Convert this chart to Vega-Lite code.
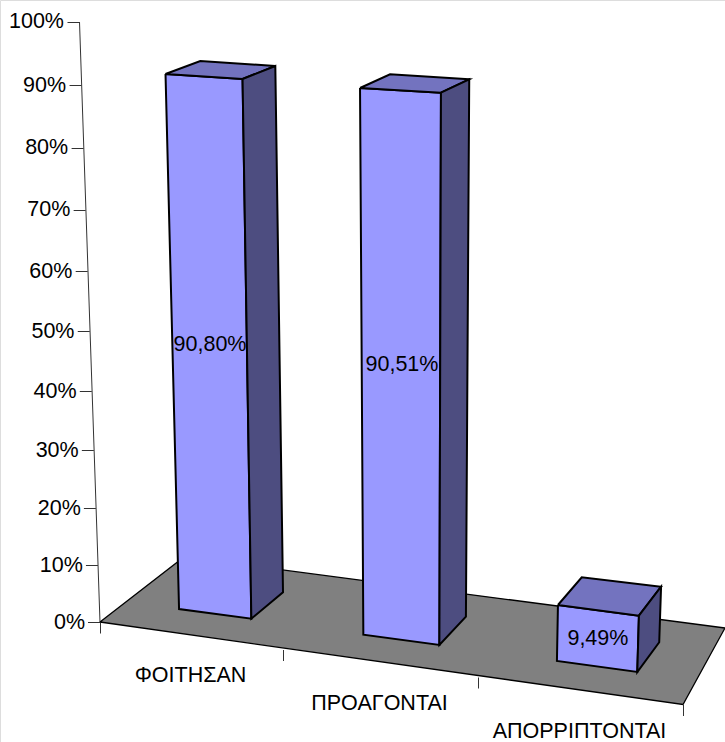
{
"$schema":"https://vega.github.io/schema/vega-lite/v6.json",
"width":725,"height":742,"autosize":{"type":"none"},"padding":0,"background":"white",
"datasets":{
"bars":[
{"category":"ΦΟΙΤΗΣΑΝ","value":90.80,"label":"90,80%","u":0.601,"v":47.7},
{"category":"ΠΡΟΑΓΟΝΤΑΙ","value":90.51,"label":"90,51%","u":1.61,"v":44.4},
{"category":"ΑΠΟΡΡΙΠΤΟΝΤΑΙ","value":9.49,"label":"9,49%","u":2.585,"v":-2.9}],
"floor":[
{"n":1,"u":0,"v":0},{"n":2,"u":0.459,"v":11.4},{"n":3,"u":3.205,"v":-1},{"n":4,"u":3,"v":-13.75},{"n":5,"u":0,"v":0}],
"front":[
{"bar":"ΦΟΙΤΗΣΑΝ","n":1,"u":0.358,"v":91.73},{"bar":"ΦΟΙΤΗΣΑΝ","n":2,"u":0.779,"v":90.94},{"bar":"ΦΟΙΤΗΣΑΝ","n":3,"u":0.827,"v":0.58},{"bar":"ΦΟΙΤΗΣΑΝ","n":4,"u":0.432,"v":2.28},{"bar":"ΦΟΙΤΗΣΑΝ","n":5,"u":0.358,"v":91.73},
{"bar":"ΠΡΟΑΓΟΝΤΑΙ","n":1,"u":1.395,"v":89.52},{"bar":"ΠΡΟΑΓΟΝΤΑΙ","n":2,"u":1.81,"v":88.77},{"bar":"ΠΡΟΑΓΟΝΤΑΙ","n":3,"u":1.802,"v":-3.83},{"bar":"ΠΡΟΑΓΟΝΤΑΙ","n":4,"u":1.412,"v":-2.12},{"bar":"ΠΡΟΑΓΟΝΤΑΙ","n":5,"u":1.395,"v":89.52},
{"bar":"ΑΠΟΡΡΙΠΤΟΝΤΑΙ","n":1,"u":2.39,"v":2.98},{"bar":"ΑΠΟΡΡΙΠΤΟΝΤΑΙ","n":2,"u":2.785,"v":1.11},{"bar":"ΑΠΟΡΡΙΠΤΟΝΤΑΙ","n":3,"u":2.777,"v":-8.33},{"bar":"ΑΠΟΡΡΙΠΤΟΝΤΑΙ","n":4,"u":2.385,"v":-6.5},{"bar":"ΑΠΟΡΡΙΠΤΟΝΤΑΙ","n":5,"u":2.39,"v":2.98}],
"top":[
{"bar":"ΦΟΙΤΗΣΑΝ","n":1,"u":0.358,"v":91.73},{"bar":"ΦΟΙΤΗΣΑΝ","n":2,"u":0.548,"v":93.78},{"bar":"ΦΟΙΤΗΣΑΝ","n":3,"u":0.958,"v":92.99},{"bar":"ΦΟΙΤΗΣΑΝ","n":4,"u":0.779,"v":90.94},{"bar":"ΦΟΙΤΗΣΑΝ","n":5,"u":0.358,"v":91.73},
{"bar":"ΠΡΟΑΓΟΝΤΑΙ","n":1,"u":1.395,"v":89.52},{"bar":"ΠΡΟΑΓΟΝΤΑΙ","n":2,"u":1.549,"v":91.69},{"bar":"ΠΡΟΑΓΟΝΤΑΙ","n":3,"u":1.955,"v":90.9},{"bar":"ΠΡΟΑΓΟΝΤΑΙ","n":4,"u":1.81,"v":88.77},{"bar":"ΠΡΟΑΓΟΝΤΑΙ","n":5,"u":1.395,"v":89.52},
{"bar":"ΑΠΟΡΡΙΠΤΟΝΤΑΙ","n":1,"u":2.39,"v":2.98},{"bar":"ΑΠΟΡΡΙΠΤΟΝΤΑΙ","n":2,"u":2.506,"v":7.84},{"bar":"ΑΠΟΡΡΙΠΤΟΝΤΑΙ","n":3,"u":2.893,"v":6.19},{"bar":"ΑΠΟΡΡΙΠΤΟΝΤΑΙ","n":4,"u":2.785,"v":1.11},{"bar":"ΑΠΟΡΡΙΠΤΟΝΤΑΙ","n":5,"u":2.39,"v":2.98}],
"side":[
{"bar":"ΦΟΙΤΗΣΑΝ","n":1,"u":0.779,"v":90.94},{"bar":"ΦΟΙΤΗΣΑΝ","n":2,"u":0.958,"v":92.99},{"bar":"ΦΟΙΤΗΣΑΝ","n":3,"u":1,"v":5.21},{"bar":"ΦΟΙΤΗΣΑΝ","n":4,"u":0.827,"v":0.58},{"bar":"ΦΟΙΤΗΣΑΝ","n":5,"u":0.779,"v":90.94},
{"bar":"ΠΡΟΑΓΟΝΤΑΙ","n":1,"u":1.81,"v":88.77},{"bar":"ΠΡΟΑΓΟΝΤΑΙ","n":2,"u":1.955,"v":90.9},{"bar":"ΠΡΟΑΓΟΝΤΑΙ","n":3,"u":1.938,"v":0.93},{"bar":"ΠΡΟΑΓΟΝΤΑΙ","n":4,"u":1.802,"v":-3.83},{"bar":"ΠΡΟΑΓΟΝΤΑΙ","n":5,"u":1.81,"v":88.77},
{"bar":"ΑΠΟΡΡΙΠΤΟΝΤΑΙ","n":1,"u":2.785,"v":1.11},{"bar":"ΑΠΟΡΡΙΠΤΟΝΤΑΙ","n":2,"u":2.893,"v":6.19},{"bar":"ΑΠΟΡΡΙΠΤΟΝΤΑΙ","n":3,"u":2.884,"v":-3.38},{"bar":"ΑΠΟΡΡΙΠΤΟΝΤΑΙ","n":4,"u":2.777,"v":-8.33},{"bar":"ΑΠΟΡΡΙΠΤΟΝΤΑΙ","n":5,"u":2.785,"v":1.11}]
},
"encoding":{
"x":{"field":"u","type":"quantitative","title":null,"scale":{"type":"linear","domain":[0,1,2,3,3.205],"range":[100,283,478,683,725],"nice":false,"zero":false},
"axis":{"orient":"top","grid":false,"domain":false,"values":[0,0.5,1,1.5,2,2.5,3],
"labelExpr":"datum.value==0.5?'ΦΟΙΤΗΣΑΝ':datum.value==1.5?'ΠΡΟΑΓΟΝΤΑΙ':datum.value==2.5?'ΑΠΟΡΡΙΠΤΟΝΤΑΙ':''",
"labelFont":"Liberation Sans","labelFontSize":21.5,"labelColor":"#000000","labelAngle":0,"labelOverlap":false,"labelBound":false,"labelFlush":false,"labelSeparation":0,
"tickColor":"#333333","tickWidth":1,"tickSize":11,
"encoding":{
"labels":{"y":{"value":{"expr":"661+28*datum.value"}},"dx":{"value":-1.5},"baseline":{"value":"middle"},"align":{"value":"center"}},
"ticks":{"y":{"value":{"expr":"622+27.5*datum.value"}},"y2":{"value":{"expr":"633+27.5*datum.value"}},"opacity":{"value":{"expr":"datum.value==floor(datum.value)?1:0"}}}
}}},
"y":{"field":"v","type":"quantitative","title":null,"scale":{"type":"linear","domain":[-20,0,10,20,30,40,50,60,70,80,90,100],"range":[742,622,565,508,450,391,331,271,209.5,147.5,85,21.5],"nice":false,"zero":false},
"axis":{"orient":"left","grid":false,"values":[0,10,20,30,40,50,60,70,80,90,100],"labelExpr":"datum.value+'%'",
"labelFont":"Liberation Sans","labelFontSize":21.5,"labelColor":"#000000","labelOverlap":false,"labelBound":false,"labelFlush":false,
"tickColor":"#333333","tickWidth":1,"tickSize":12,"domainColor":"#333333","domainWidth":1,
"encoding":{
"labels":{"x":{"value":{"expr":"84.5-0.21*datum.value"}},"align":{"value":"right"},"baseline":{"value":"middle"}},
"ticks":{"x":{"value":{"expr":"99.5-0.205*datum.value"}},"x2":{"value":{"expr":"87.5-0.205*datum.value"}}},
"domain":{"x":{"value":99.5},"x2":{"value":79},"y":{"value":622},"y2":{"value":21.5}}
}}}
},
"layer":[
{"data":{"name":"floor"},"mark":{"type":"line","fill":"#808080","stroke":"#000000","strokeWidth":1.3,"strokeJoin":"miter"},"encoding":{"order":{"field":"n","type":"ordinal"}}},
{"data":{"name":"front"},"mark":{"type":"line","fill":"#9999FF","stroke":"#000000","strokeWidth":2,"strokeJoin":"miter"},"encoding":{"detail":{"field":"bar","type":"nominal"},"order":{"field":"n","type":"ordinal"}}},
{"data":{"name":"top"},"mark":{"type":"line","fill":"#7373BF","stroke":"#000000","strokeWidth":2,"strokeJoin":"miter"},"encoding":{"detail":{"field":"bar","type":"nominal"},"order":{"field":"n","type":"ordinal"}}},
{"data":{"name":"side"},"mark":{"type":"line","fill":"#4D4D80","stroke":"#000000","strokeWidth":2,"strokeJoin":"miter"},"encoding":{"detail":{"field":"bar","type":"nominal"},"order":{"field":"n","type":"ordinal"}}},
{"data":{"name":"bars"},"mark":{"type":"text","font":"Liberation Sans","fontSize":21.5,"color":"#000000","align":"center","baseline":"middle"},"encoding":{"text":{"field":"label","type":"nominal"}}}
]
}
